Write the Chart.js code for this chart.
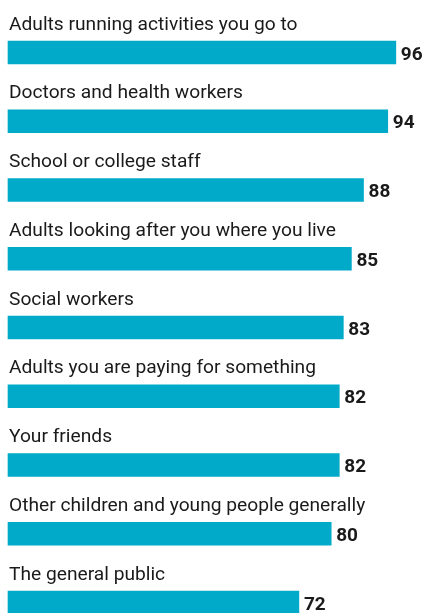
<!DOCTYPE html>
<html>
<head>
<meta charset="utf-8">
<script src="https://cdn.jsdelivr.net/npm/chart.js@4"></script>
<style>
  html, body { margin: 0; padding: 0; background: #fff; overflow: hidden; }
  #chart { display: block; }
</style>
</head>
<body>
<canvas id="chart" width="425" height="613"></canvas>
<script>
// categories and values
const categories = [
  'Adults running activities you go to',
  'Doctors and health workers',
  'School or college staff',
  'Adults looking after you where you live',
  'Social workers',
  'Adults you are paying for something',
  'Your friends',
  'Other children and young people generally',
  'The general public'
];
const values = [96, 94, 88, 85, 83, 82, 82, 80, 72];

const barColour = '#00aac8';
const textColour = '#1a1a1a';

// labels above each bar and the number at its end
const labelPlugin = {
  id: 'barLabels',
  afterDatasetsDraw(chart) {
    const ctx = chart.ctx;
    const meta = chart.getDatasetMeta(0);
    ctx.save();
    ctx.fillStyle = textColour;
    ctx.textBaseline = 'alphabetic';
    meta.data.forEach((bar, i) => {
      const half = bar.height / 2;
      ctx.font = '19.2px Roboto, sans-serif';
      ctx.textAlign = 'left';
      ctx.fillText(chart.data.labels[i], 9, bar.y - half - 11.5);
      ctx.font = 'bold 19px Roboto, sans-serif';
      ctx.fillText(String(values[i]), bar.x + 5, bar.y + 7);
    });
    ctx.restore();
  }
};

new Chart(document.getElementById('chart'), {
  type: 'bar',
  data: {
    labels: categories,
    datasets: [{
      data: values,
      backgroundColor: barColour,
      borderWidth: 0,
      barThickness: 23,
      clip: false
    }]
  },
  options: {
    indexAxis: 'y',
    responsive: false,
    animation: false,
    layout: { padding: { left: 8, right: 13, top: 52.5, bottom: 10.5 } },
    plugins: { legend: { display: false }, tooltip: { enabled: false } },
    scales: {
      x: { display: false, min: 0, max: 100 },
      y: { display: false, offset: false }
    }
  },
  plugins: [labelPlugin]
});
</script>
</body>
</html>
